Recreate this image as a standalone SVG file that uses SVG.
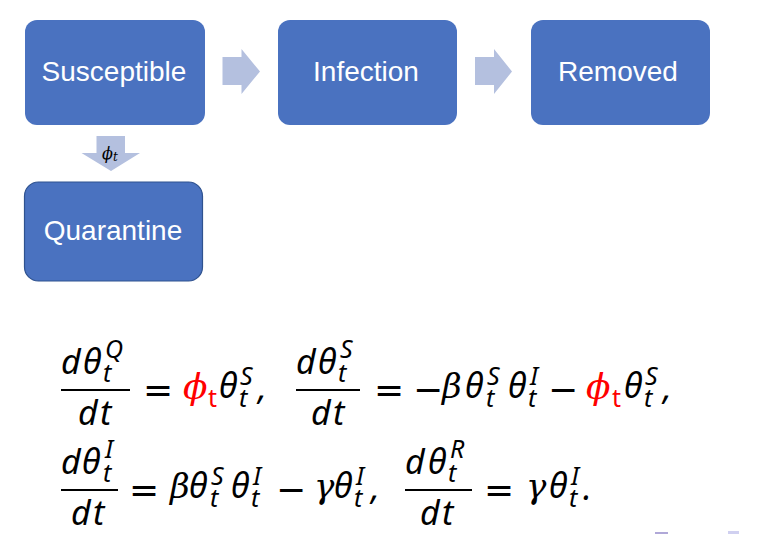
<svg xmlns="http://www.w3.org/2000/svg" width="782" height="534" viewBox="0 0 782 534">
<style>
.box{fill:#4A72C0}
.lbl{font-family:"Liberation Sans",Arial,sans-serif;font-size:28px;fill:#fff;text-anchor:middle}
.arr{fill:#B4C0DF}
.mi{font-family:"Noto Sans","DejaVu Sans",sans-serif;font-style:italic;font-size:34px;fill:#000}
.sc{font-family:"Noto Sans","DejaVu Sans",sans-serif;font-style:italic;font-size:25px;fill:#000}
.gr{font-family:"DejaVu Serif",serif;font-style:italic;font-size:34px;fill:#000}
.ph{font-family:"DejaVu Serif",serif;font-style:italic;font-size:36px}
.op{font-family:"DejaVu Sans",sans-serif;font-size:36px;fill:#000}
.red{fill:#FF0000}
.bar{stroke:#000;stroke-width:2.2}
</style>
<rect width="782" height="534" fill="#fff"/>
<g id="susceptible">
<rect class="box" x="25" y="20" width="180" height="105" rx="12"/>
<text class="lbl" x="114" y="81">Susceptible</text>
</g>
<g id="infection">
<rect class="box" x="278" y="20" width="179" height="105" rx="12"/>
<text class="lbl" x="366" y="81">Infection</text>
</g>
<g id="removed">
<rect class="box" x="531" y="20" width="179" height="105" rx="12"/>
<text class="lbl" x="618" y="81">Removed</text>
</g>
<g id="quarantine">
<rect class="box" x="24.5" y="182" width="178" height="99" rx="14" stroke="#2F528F" stroke-width="1.2"/>
<text class="lbl" x="113" y="240">Quarantine</text>
</g>
<g id="connectors">
<polygon class="arr" points="222.5,57 241.5,57 241.5,49 260,71.5 241.5,94 241.5,85 222.5,85"/>
<polygon class="arr" points="475,57 494,57 494,49 512,71.5 494,94 494,85 475,85"/>
<polygon class="arr" points="96.5,136 125,136 125,153 140,153 111,171 81.5,153 96.5,153"/>
<text x="102" y="159" style="font-family:'DejaVu Serif',serif;font-style:italic;font-size:16px;fill:#000">ϕ</text>
<text x="113" y="161" style="font-family:'DejaVu Serif',serif;font-style:italic;font-size:12px;fill:#000">t</text>
</g>
<g id="equations">
<!-- line 1, fraction 1 -->
<line class="bar" x1="61" y1="390" x2="130" y2="390"/>
<text class="mi" x="61" y="374">d</text>
<text class="mi" x="83" y="374">θ</text>
<text class="sc" x="105" y="358">Q</text>
<text class="sc" x="103" y="382">t</text>
<text class="mi" x="78" y="425">d</text>
<text class="mi" x="100" y="425">t</text>
<text class="op" x="143" y="402">=</text>
<text class="ph red" x="183" y="399">ϕ</text>
<text class="sc red" x="208" y="407" style="font-style:normal">t</text>
<text class="mi" x="219" y="398">θ</text>
<text class="sc" x="240" y="385">S</text>
<text class="sc" x="239" y="407">t</text>
<text class="mi" x="258" y="400">,</text>
<!-- line 1, fraction 2 -->
<line class="bar" x1="296" y1="390" x2="360" y2="390"/>
<text class="mi" x="296" y="374">d</text>
<text class="mi" x="318" y="374">θ</text>
<text class="sc" x="340" y="358">S</text>
<text class="sc" x="338" y="382">t</text>
<text class="mi" x="311" y="425">d</text>
<text class="mi" x="333" y="425">t</text>
<text class="op" x="374" y="402">=</text>
<text class="op" x="413" y="402">−</text>
<text class="gr" x="442" y="398">β</text>
<text class="mi" x="465" y="398">θ</text>
<text class="sc" x="487" y="385">S</text>
<text class="sc" x="486" y="407">t</text>
<text class="mi" x="508" y="398">θ</text>
<text class="sc" x="530" y="385">I</text>
<text class="sc" x="528" y="407">t</text>
<text class="op" x="548" y="402">−</text>
<text class="ph red" x="586" y="399">ϕ</text>
<text class="sc red" x="612" y="407" style="font-style:normal">t</text>
<text class="mi" x="624" y="398">θ</text>
<text class="sc" x="645" y="385">S</text>
<text class="sc" x="644" y="407">t</text>
<text class="mi" x="663" y="400">,</text>
<!-- line 2, fraction 1 -->
<line class="bar" x1="61" y1="490" x2="118" y2="490"/>
<text class="mi" x="61" y="474">d</text>
<text class="mi" x="82" y="474">θ</text>
<text class="sc" x="105" y="458">I</text>
<text class="sc" x="103" y="482">t</text>
<text class="mi" x="71" y="525">d</text>
<text class="mi" x="93" y="525">t</text>
<text class="op" x="129" y="502">=</text>
<text class="gr" x="170" y="498">β</text>
<text class="mi" x="189" y="498">θ</text>
<text class="sc" x="211" y="485">S</text>
<text class="sc" x="210" y="507">t</text>
<text class="mi" x="231" y="498">θ</text>
<text class="sc" x="253" y="485">I</text>
<text class="sc" x="251" y="507">t</text>
<text class="op" x="276" y="502">−</text>
<text class="gr" x="314" y="498">γ</text>
<text class="mi" x="334" y="498">θ</text>
<text class="sc" x="356" y="485">I</text>
<text class="sc" x="354" y="507">t</text>
<text class="mi" x="371" y="500">,</text>
<!-- line 2, fraction 2 -->
<line class="bar" x1="405" y1="490" x2="472" y2="490"/>
<text class="mi" x="405" y="474">d</text>
<text class="mi" x="428" y="474">θ</text>
<text class="sc" x="450" y="458">R</text>
<text class="sc" x="448" y="482">t</text>
<text class="mi" x="420" y="525">d</text>
<text class="mi" x="442" y="525">t</text>
<text class="op" x="484" y="502">=</text>
<text class="gr" x="526" y="498">γ</text>
<text class="mi" x="549" y="498">θ</text>
<text class="sc" x="571" y="485">I</text>
<text class="sc" x="569" y="507">t</text>
<text class="mi" x="583" y="500">.</text>
</g>
<rect x="655" y="532" width="13" height="2" fill="#B0A8D8"/>
<rect x="728" y="531" width="11" height="3" fill="#D0D0F0"/>
</svg>
